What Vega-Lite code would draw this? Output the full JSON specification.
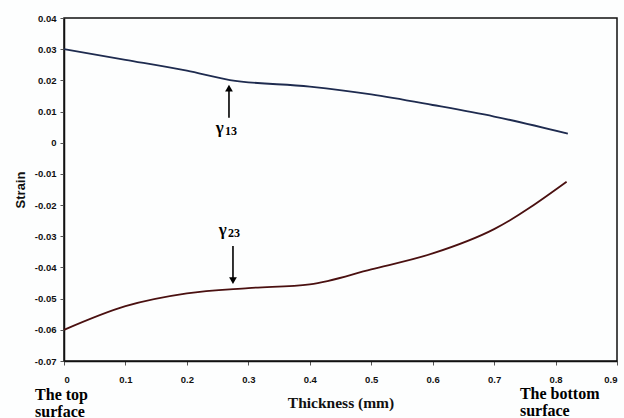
{
  "$schema": "https://vega.github.io/schema/vega-lite/v6.json",
  "width": 553,
  "height": 343,
  "autosize": "none",
  "padding": {"left": 64, "top": 18, "right": 7, "bottom": 57},
  "background": "#fdfefe",
  "config": {
    "view": {"stroke": "#111", "strokeWidth": 1.5},
    "axis": {
      "domainColor": "#111", "domainWidth": 1.5, "grid": false,
      "tickColor": "#555", "tickSize": 4, "tickWidth": 1,
      "labelFont": "Liberation Sans", "labelFontWeight": "bold", "labelFontSize": 9.5, "labelColor": "#111",
      "titleFont": "Liberation Serif", "titleFontWeight": "bold", "titleFontSize": 15.5, "titleColor": "#111"
    }
  },
  "datasets": {
    "curves": [
      {"x": 0.0, "y": 0.0300, "series": "g13"},
      {"x": 0.1, "y": 0.0266, "series": "g13"},
      {"x": 0.2, "y": 0.0231, "series": "g13"},
      {"x": 0.27, "y": 0.0201, "series": "g13"},
      {"x": 0.4, "y": 0.0180, "series": "g13"},
      {"x": 0.5, "y": 0.0155, "series": "g13"},
      {"x": 0.6, "y": 0.0121, "series": "g13"},
      {"x": 0.7, "y": 0.0084, "series": "g13"},
      {"x": 0.82, "y": 0.0029, "series": "g13"},
      {"x": 0.0, "y": -0.0600, "series": "g23"},
      {"x": 0.1, "y": -0.0524, "series": "g23"},
      {"x": 0.2, "y": -0.0483, "series": "g23"},
      {"x": 0.3, "y": -0.0466, "series": "g23"},
      {"x": 0.4, "y": -0.0454, "series": "g23"},
      {"x": 0.5, "y": -0.0406, "series": "g23"},
      {"x": 0.6, "y": -0.0355, "series": "g23"},
      {"x": 0.7, "y": -0.0277, "series": "g23"},
      {"x": 0.818, "y": -0.0125, "series": "g23"}
    ],
    "arrows": [
      {"x": 0.2685, "y": 0.0080, "y2": 0.0172},
      {"x": 0.275, "y": -0.0331, "y2": -0.0440}
    ],
    "heads": [
      {"x": 0.2685, "y": 0.0175, "shape": "triangle-up"},
      {"x": 0.275, "y": -0.0442, "shape": "triangle-down"}
    ],
    "greek": [
      {"x": 0.247, "y": 0.0031, "t": "γ"},
      {"x": 0.252, "y": -0.0296, "t": "γ"}
    ],
    "subs": [
      {"x": 0.262, "y": 0.0026, "t": "13"},
      {"x": 0.267, "y": -0.0301, "t": "23"}
    ],
    "ends": [
      {"x": -0.047, "y": -0.0825, "t": "The top\nsurface"},
      {"x": 0.742, "y": -0.0822, "t": "The bottom\nsurface"}
    ]
  },
  "encoding": {
    "x": {"field": "x", "type": "quantitative",
      "scale": {"domain": [0, 0.9], "nice": false, "zero": false},
      "axis": {"values": [0, 0.1, 0.2, 0.3, 0.4, 0.5, 0.6, 0.7, 0.8, 0.9], "format": ".1~f", "title": "Thickness (mm)", "labelPadding": 9, "titlePadding": 12}},
    "y": {"field": "y", "type": "quantitative",
      "scale": {"domain": [-0.07, 0.04], "nice": false, "zero": false},
      "axis": {"values": [-0.07, -0.06, -0.05, -0.04, -0.03, -0.02, -0.01, 0, 0.01, 0.02, 0.03, 0.04],
        "labelExpr": "datum.value == 0 ? '0' : replace(format(datum.value, '.2f'), '−', '-')",
        "title": "Strain", "titleFont": "Liberation Sans", "titleFontSize": 13, "titlePadding": 7, "labelPadding": 4}}
  },
  "layer": [
    {
      "data": {"name": "curves"},
      "mark": {"type": "line", "interpolate": "monotone", "strokeWidth": 1.8},
      "encoding": {
        "color": {"field": "series", "type": "nominal",
          "scale": {"domain": ["g13", "g23"], "range": ["#1e2b4f", "#4a1010"]}, "legend": null}
      }
    },
    {
      "data": {"name": "arrows"},
      "mark": {"type": "rule", "color": "#000", "strokeWidth": 1.6},
      "encoding": {"y2": {"field": "y2"}}
    },
    {
      "data": {"name": "heads"},
      "mark": {"type": "point", "filled": true, "color": "#000", "size": 60, "opacity": 1},
      "encoding": {"shape": {"field": "shape", "type": "nominal", "scale": null}}
    },
    {
      "data": {"name": "greek"},
      "mark": {"type": "text", "align": "left", "baseline": "alphabetic", "font": "Liberation Serif", "fontWeight": "bold", "fontSize": 17, "color": "#000"},
      "encoding": {"text": {"field": "t"}}
    },
    {
      "data": {"name": "subs"},
      "mark": {"type": "text", "align": "left", "baseline": "alphabetic", "font": "Liberation Serif", "fontWeight": "bold", "fontSize": 12, "color": "#000"},
      "encoding": {"text": {"field": "t"}}
    },
    {
      "data": {"name": "ends"},
      "mark": {"type": "text", "align": "left", "baseline": "alphabetic", "lineBreak": "\n", "font": "Liberation Serif", "fontWeight": "bold", "fontSize": 16, "lineHeight": 17, "color": "#000"},
      "encoding": {"text": {"field": "t"}}
    }
  ]
}
